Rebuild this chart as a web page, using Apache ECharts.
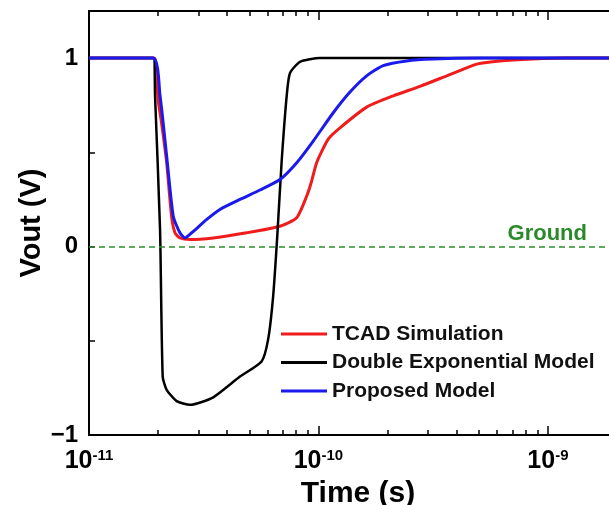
<!DOCTYPE html>
<html>
<head>
<meta charset="utf-8">
<script src="https://cdn.jsdelivr.net/npm/echarts@6/dist/echarts.min.js"></script>
<style>
  html, body { margin: 0; padding: 0; background: #fff; }
  #chart { width: 609px; height: 505px; }
</style>
</head>
<body>
<div id="chart"></div>
<script>
// time in seconds, Vout in volts
const tcadTime = [1e-11, 1.92e-11, 1.97e-11, 2.0e-11, 2.08e-11, 2.18e-11, 2.29e-11, 2.37e-11, 2.49e-11, 2.755e-11, 3.48e-11, 4.87e-11, 6.8e-11, 8.04e-11, 8.89e-11, 9.3e-11, 9.82e-11, 1.103e-10, 1.241e-10, 1.622e-10, 2.118e-10, 2.77e-10, 3.62e-10, 4.26e-10, 4.89e-10, 6.18e-10, 8.6e-10, 1.2e-9, 2e-9];
const tcadVout = [1, 1, 0.9, 0.78, 0.64, 0.445, 0.16, 0.073, 0.046, 0.037, 0.046, 0.073, 0.108, 0.153, 0.268, 0.34, 0.445, 0.57, 0.63, 0.74, 0.8, 0.85, 0.906, 0.94, 0.968, 0.985, 0.995, 1, 1];

const dexpTime = [1e-11, 1.906e-11, 1.94e-11, 2.04e-11, 2.095e-11, 2.18e-11, 2.41e-11, 2.755e-11, 3.48e-11, 4.55e-11, 5.65e-11, 6.04e-11, 6.35e-11, 6.61e-11, 6.91e-11, 7.27e-11, 7.51e-11, 8.31e-11, 1.015e-10, 2e-9];
const dexpVout = [1, 1, 0.8, 0.09, -0.69, -0.76, -0.82, -0.84, -0.8, -0.69, -0.61, -0.49, -0.26, 0.05, 0.45, 0.8, 0.92, 0.98, 1, 1];

const propTime = [1e-11, 1.906e-11, 2.04e-11, 2.18e-11, 2.33e-11, 2.49e-11, 2.62e-11, 2.85e-11, 3.26e-11, 3.72e-11, 4.55e-11, 5.56e-11, 6.8e-11, 8.04e-11, 9.49e-11, 1.16e-10, 1.372e-10, 1.622e-10, 1.916e-10, 2.423e-10, 3.155e-10, 5e-10, 2e-9];
const propVout = [1, 1, 0.8, 0.48, 0.16, 0.073, 0.046, 0.081, 0.144, 0.197, 0.25, 0.3, 0.356, 0.445, 0.56, 0.71, 0.82, 0.906, 0.96, 0.985, 0.995, 1, 1];

const xMajor = [1e-11, 1e-10, 1e-9];
const xMinor = [2e-11, 3e-11, 4e-11, 5e-11, 6e-11, 7e-11, 8e-11, 9e-11,
                2e-10, 3e-10, 4e-10, 5e-10, 6e-10, 7e-10, 8e-10, 9e-10];
const yLabels = [-1, 0, 1];
const yTicks = [-1, -0.5, 0, 0.5, 1];

const xMin = Math.log10(1e-11);
const xMax = Math.log10(2e-9);
const font = 'Liberation Sans, Arial';

function pairs(t, v) {
  return t.map((x, i) => [Math.log10(x), v[i]]);
}

const myChart = echarts.init(document.getElementById('chart'));

const lineStyleAxis = { color: '#000', width: 2 };
const majorTicks = xMajor.map(Math.log10);
const minorTicks = xMinor.map(Math.log10);

function xAxisDef(pos, ticks, len, withLine, withLabel) {
  return {
    type: 'value', position: pos, min: xMin, max: xMax,
    axisLine: { show: withLine, onZero: false, lineStyle: lineStyleAxis },
    axisTick: { show: true, inside: true, length: len, customValues: ticks, lineStyle: { color: '#000', width: 1.5 } },
    axisLabel: withLabel ? {
      show: true, margin: 13, customValues: majorTicks,
      formatter: v => '{b|10}{s|' + Math.round(v) + '}',
      rich: {
        b: { fontSize: 25, fontWeight: 'bold', fontFamily: font, color: '#000', lineHeight: 27 },
        s: { fontSize: 15, fontWeight: 'bold', fontFamily: font, color: '#000', verticalAlign: 'top', lineHeight: 15 }
      }
    } : { show: false },
    splitLine: { show: false },
    name: withLabel ? 'Time (s)' : '',
    nameLocation: 'middle',
    nameGap: 39,
    nameTextStyle: { fontSize: 30, fontWeight: 'bold', fontFamily: font, color: '#000', padding: [0, 0, 0, 10] }
  };
}

const option = {
  animation: false,
  backgroundColor: '#fff',
  grid: { left: 89, right: -8, top: 11, bottom: 70, containLabel: false, outerBoundsMode: 'none' },
  legend: {
    orient: 'vertical',
    left: 281, top: 323, padding: 0,
    itemWidth: 46, itemHeight: 3, itemGap: 6.5,
    icon: 'rect',
    data: ['TCAD Simulation', 'Double Exponential Model', 'Proposed Model'],
    textStyle: { fontSize: 21, fontWeight: 'bold', fontFamily: font, color: '#111', lineHeight: 22 }
  },
  xAxis: [
    xAxisDef('bottom', majorTicks, 9, true, true),
    xAxisDef('bottom', minorTicks, 5, false, false),
    xAxisDef('top', majorTicks, 9, true, false),
    xAxisDef('top', minorTicks, 5, false, false)
  ],
  yAxis: {
    type: 'value', min: -1, max: 1.25, interval: 0.5,
    axisLine: { show: true, onZero: false, lineStyle: lineStyleAxis },
    axisTick: { show: true, inside: true, length: 6, customValues: yTicks, lineStyle: { color: '#000', width: 1.5 } },
    axisLabel: {
      customValues: yLabels, margin: 11,
      formatter: v => v < 0 ? '\u22121' : String(v),
      fontSize: 24, fontWeight: 'bold', fontFamily: font, color: '#000'
    },
    splitLine: { show: false },
    name: 'Vout (V)',
    nameLocation: 'middle',
    nameGap: 43,
    nameMoveOverlap: false,
    nameTextStyle: { fontSize: 29, fontWeight: 'bold', fontFamily: font, color: '#000' }
  },
  series: [
    {
      name: 'TCAD Simulation', type: 'line', showSymbol: false, smooth: 0.2,
      data: pairs(tcadTime, tcadVout),
      lineStyle: { color: '#f01c1c', width: 3 }, itemStyle: { color: '#f01c1c' },
      markLine: {
        silent: true, symbol: 'none',
        lineStyle: { color: '#2f8f2f', type: [6, 4], width: 1.5 },
        label: {
          show: true, position: 'insideEndTop', formatter: 'Ground', padding: [0, 28, 0, 0],
          distance: 2,
          fontSize: 22, fontWeight: 'bold', fontFamily: font, color: '#2a8a2a'
        },
        data: [{ yAxis: 0 }]
      }
    },
    {
      name: 'Double Exponential Model', type: 'line', showSymbol: false, smooth: 0.2,
      data: pairs(dexpTime, dexpVout),
      lineStyle: { color: '#000', width: 2.5 }, itemStyle: { color: '#000' }
    },
    {
      name: 'Proposed Model', type: 'line', showSymbol: false, smooth: 0.2,
      data: pairs(propTime, propVout),
      lineStyle: { color: '#1a1aee', width: 3 }, itemStyle: { color: '#1a1aee' }
    }
  ]
};

myChart.setOption(option);
</script>
</body>
</html>
